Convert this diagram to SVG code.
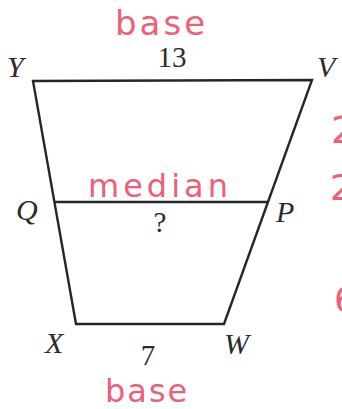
<svg xmlns="http://www.w3.org/2000/svg" width="342" height="409" viewBox="0 0 342 409">
  <style>
    .edge { stroke: #262626; stroke-width: 2.4; fill: none; stroke-linejoin: miter; }
    .lbl { font-family: "Liberation Serif", "Times New Roman", serif; font-style: italic; font-size: 30px; fill: #2b2b2b; }
    .num { font-family: "Liberation Serif", "Times New Roman", serif; font-size: 29px; fill: #2b2b2b; }
    .hand { font-family: "DejaVu Sans", sans-serif; fill: #ec6078; }
  </style>
  <rect width="342" height="409" fill="#ffffff"/>
  <g id="connectors">
    <polygon id="trapezoid" class="edge" points="33,81 312,80 224,324 76,324"/>
    <line id="median-line" class="edge" x1="54" y1="202" x2="268" y2="202"/>
  </g>
  <g id="node-Y"><text class="lbl" x="7" y="77">Y</text></g>
  <g id="node-V"><text class="lbl" x="317" y="77">V</text></g>
  <g id="node-Q"><text class="lbl" x="16" y="220">Q</text></g>
  <g id="node-P"><text class="lbl" x="276" y="222">P</text></g>
  <g id="node-X"><text class="lbl" x="45" y="353">X</text></g>
  <g id="node-W"><text class="lbl" x="224" y="354">W</text></g>
  <g id="measures">
    <text class="num" x="172" y="67" text-anchor="middle">13</text>
    <text class="num" x="160" y="232" text-anchor="middle" font-size="26">?</text>
    <text class="num" x="148" y="365" text-anchor="middle">7</text>
  </g>
  <g id="annotations">
    <text class="hand" x="115" y="35" font-size="34" letter-spacing="3">base</text>
    <text class="hand" x="88" y="197" font-size="32" letter-spacing="4">median</text>
    <text class="hand" x="105" y="402" font-size="32" letter-spacing="2">base</text>
    <text class="hand" x="331" y="143" font-size="38">2</text>
    <text class="hand" x="330" y="200" font-size="36">2</text>
    <text class="hand" x="334" y="312" font-size="36">6</text>
  </g>
</svg>
